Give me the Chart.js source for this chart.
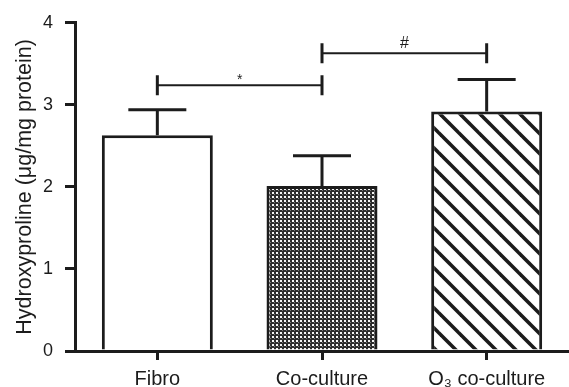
<!DOCTYPE html>
<html>
<head>
<meta charset="utf-8">
<script src="https://cdn.jsdelivr.net/npm/chart.js@4"></script>
<style>
  html, body { margin: 0; padding: 0; background: #fff; }
  #wrap { width: 569px; height: 387px; }
</style>
</head>
<body>
<div id="wrap"><canvas id="c" width="569" height="387"></canvas></div>
<script>
// ---- data ----
const categories = ['Fibro', 'Co-culture', 'O\u2083 co-culture'];
const means = [2.63, 2.01, 2.92];
const errors = [0.31, 0.37, 0.39];
const yTickValues = [0, 1, 2, 3, 4];
const comparisonPairs = [[0, 1], [1, 2]];
const comparisonMarks = ['*', '#'];
const comparisonLevels = [3.24, 3.63];
const yTitle = 'Hydroxyproline (\u03bcg/mg protein)';

const FONT = '"Liberation Sans", Arial, Helvetica, sans-serif';
const INK = '#1c1c1c';

function dotPattern() {
  const c = document.createElement('canvas');
  c.width = 4; c.height = 4;
  const g = c.getContext('2d');
  g.fillStyle = '#2c2c2c'; g.fillRect(0, 0, 4, 4);
  g.fillStyle = '#f4f4f4'; g.fillRect(0, 0, 2, 2);
  g.fillStyle = '#7a7a7a'; g.fillRect(2, 2, 1, 1);
  return g.createPattern(c, 'repeat');
}
function hatchPattern() {
  const s = 20;
  const c = document.createElement('canvas');
  c.width = s; c.height = s;
  const g = c.getContext('2d');
  g.fillStyle = '#fff'; g.fillRect(0, 0, s, s);
  g.strokeStyle = INK; g.lineWidth = 3.6;
  const off = 14;
  for (let k = -2; k <= 1; k++) {
    g.beginPath();
    g.moveTo(-5, -5 + off + k * s);
    g.lineTo(s + 5, s + 5 + off + k * s);
    g.stroke();
  }
  return g.createPattern(c, 'repeat');
}

const fills = ['#ffffff', dotPattern(), hatchPattern()];

const overlay = {
  id: 'overlay',
  afterDatasetsDraw(chart) {
    const ctx = chart.ctx;
    const ys = chart.scales.y;
    const meta = chart.getDatasetMeta(0);
    ctx.save();
    ctx.strokeStyle = INK;
    ctx.fillStyle = INK;
    ctx.lineCap = 'butt';
    // error bars (upper only)
    means.forEach((m, i) => {
      const x = meta.data[i].x;
      const y0 = ys.getPixelForValue(m);
      const y1 = ys.getPixelForValue(m + errors[i]);
      ctx.lineWidth = 3;
      ctx.beginPath();
      ctx.moveTo(x, y0); ctx.lineTo(x, y1);
      ctx.moveTo(x - 29, y1); ctx.lineTo(x + 29, y1);
      ctx.stroke();
    });
    // significance brackets
    comparisonPairs.forEach((p, i) => {
      const xa = meta.data[p[0]].x;
      const xb = meta.data[p[1]].x;
      const y = ys.getPixelForValue(comparisonLevels[i]);
      ctx.lineWidth = 2;
      ctx.beginPath();
      ctx.moveTo(xa, y); ctx.lineTo(xb, y);
      ctx.stroke();
      ctx.lineWidth = 3;
      ctx.beginPath();
      ctx.moveTo(xa, y - 10); ctx.lineTo(xa, y + 10);
      ctx.moveTo(xb, y - 10); ctx.lineTo(xb, y + 10);
      ctx.stroke();
      const mark = comparisonMarks[i];
      ctx.textAlign = 'center';
      ctx.textBaseline = 'alphabetic';
      ctx.font = (mark === '*' ? '14px ' : '16px ') + FONT;
      ctx.fillText(mark, (xa + xb) / 2, mark === '*' ? y - 1 : y - 5);
    });
    ctx.restore();
  }
};

new Chart(document.getElementById('c'), {
  type: 'bar',
  data: {
    labels: categories,
    datasets: [{
      data: means,
      backgroundColor: fills,
      borderColor: INK,
      borderWidth: 3,
      borderSkipped: 'start',
      categoryPercentage: 1,
      barPercentage: 0.674
    }]
  },
  options: {
    responsive: false,
    devicePixelRatio: 1,
    animation: false,
    events: [],
    layout: { padding: { top: 19, right: 0, left: 0, bottom: 0 } },
    plugins: { legend: { display: false }, tooltip: { enabled: false } },
    scales: {
      x: {
        type: 'category',
        offset: true,
        border: { display: true, color: INK, width: 3 },
        grid: { display: true, offset: false, drawOnChartArea: false, drawTicks: true, tickLength: 9, color: INK, lineWidth: 3 },
        ticks: { color: INK, font: { family: FONT, size: 20 }, padding: 7, maxRotation: 0, autoSkip: false },
        afterFit(s) { s.height = 36; }
      },
      y: {
        min: 0,
        max: 4,
        afterBuildTicks(s) { s.ticks = yTickValues.map(v => ({ value: v })); },
        border: { display: true, color: INK, width: 3 },
        grid: { display: true, drawOnChartArea: false, drawTicks: true, tickLength: 10, color: INK, lineWidth: 3 },
        ticks: { color: INK, font: { family: FONT, size: 18 }, padding: 12 },
        title: { display: true, text: yTitle, color: INK, font: { family: FONT, size: 21.5 }, padding: { top: 12, bottom: 0 } },
        afterFit(s) { s.width = 75; }
      }
    }
  },
  plugins: [overlay]
});
</script>
</body>
</html>
